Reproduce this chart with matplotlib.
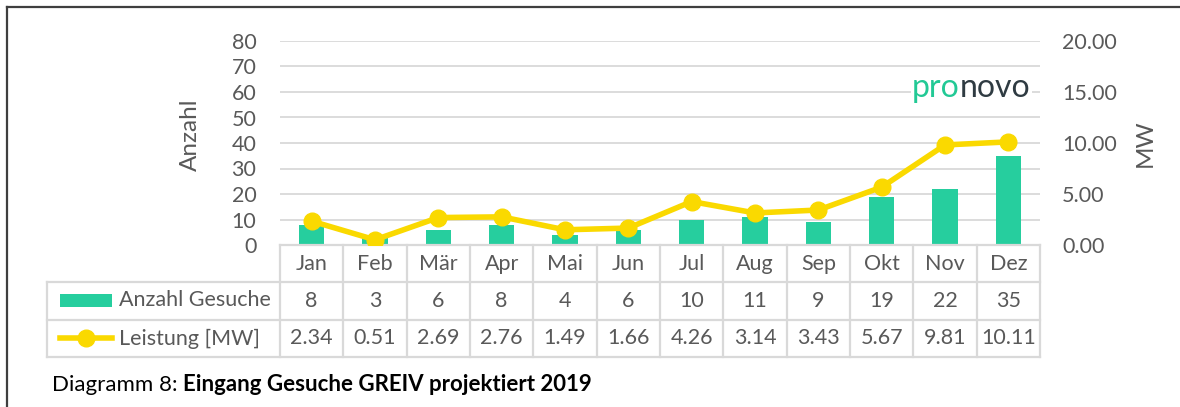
import matplotlib
matplotlib.use("Agg")
import matplotlib.pyplot as plt
from matplotlib.transforms import blended_transform_factory
from matplotlib.patches import Rectangle
from matplotlib.lines import Line2D

months = ["Jan", "Feb", "Mär", "Apr", "Mai", "Jun", "Jul", "Aug", "Sep", "Okt", "Nov", "Dez"]
anzahl = [8, 3, 6, 8, 4, 6, 10, 11, 9, 19, 22, 35]
leistung = [2.34, 0.51, 2.69, 2.76, 1.49, 1.66, 4.26, 3.14, 3.43, 5.67, 9.81, 10.11]
left_ticks = [0, 10, 20, 30, 40, 50, 60, 70, 80]
right_ticks = [0, 5, 10, 15, 20]
series_names = ["Anzahl Gesuche", "Leistung [MW]"]

GREEN = "#26CE9E"
YELLOW = "#FAD900"
GRID = "#D9D9D9"
TXT = "#595959"
FONT = "Lato"
plt.rcParams["font.family"] = [FONT, "DejaVu Sans"]

W, H = 1180, 407
fig = plt.figure(figsize=(W / 100, H / 100), dpi=100)

def fx(px):
    return px / W

def fy(py):
    return (H - py) / H

x0, x1, y0, y1 = 280, 1040, 245, 41
ax = fig.add_axes([fx(x0), fy(y0), fx(x1) - fx(x0), fy(y1) - fy(y0)])
ax2 = ax.twinx()
for a in (ax, ax2):
    for s in a.spines.values():
        s.set_visible(False)
    a.tick_params(length=0)

n = len(months)
xs = list(range(n))
ax.set_xlim(-0.5, n - 0.5)
ax.set_ylim(0, 80)
ax2.set_ylim(0, 20)
ax.set_yticks(left_ticks)
ax.set_yticklabels([str(t) for t in left_ticks], color=TXT, fontsize=15.5)
ax2.set_yticks(right_ticks)
ax2.set_yticklabels([f"{t:.2f}" for t in right_ticks], color=TXT, fontsize=15.5)
ax.tick_params(axis="y", pad=17)
ax2.tick_params(axis="y", pad=16)
ax.set_xticks([])
for t in left_ticks[1:]:
    ax.axhline(t, color=GRID, lw=1.3, zorder=0)

ax.bar(xs, anzahl, width=0.4, color=GREEN, zorder=2)
ax2.plot(xs, leistung, color=YELLOW, lw=4, marker="o", markersize=12, zorder=3)

fig.text(fx(190), fy(135), "Anzahl", rotation=90, ha="center", va="center", color=TXT, fontsize=17.5)
fig.text(fx(1145), fy(143), "MW", rotation=90, ha="center", va="center", color=TXT, fontsize=17.5)

# logo
lg = fig.text(fx(912), fy(88), "pro", color="#22C995", fontsize=23,
              ha="left", va="center", zorder=5,
              bbox=dict(facecolor="white", edgecolor="none", pad=1))
ax.annotate("novo", xy=(1, 0), xycoords=lg, xytext=(0, 0), textcoords="offset points",
            color="#2F3B42", fontsize=23, ha="left", va="bottom",
            bbox=dict(facecolor="white", edgecolor="none", pad=1), zorder=5)

# data table
tr = blended_transform_factory(ax.transData, ax.transAxes)
axh = y0 - y1
def ay(py):
    return (y0 - py) / axh

rows = [245, 282, 320, 357]
leg_left = (47 - x0) / ((x1 - x0) / n) - 0.5
lw_t = 1.6
ax.add_line(Line2D([-0.5, n - 0.5], [ay(rows[0])] * 2, transform=tr, color=GRID, lw=lw_t, clip_on=False))
for r in rows[1:]:
    ax.add_line(Line2D([leg_left, n - 0.5], [ay(r)] * 2, transform=tr, color=GRID, lw=lw_t, clip_on=False))
for k in range(n + 1):
    ax.add_line(Line2D([k - 0.5] * 2, [ay(rows[0]), ay(rows[3])], transform=tr, color=GRID, lw=lw_t, clip_on=False))
ax.add_line(Line2D([leg_left] * 2, [ay(rows[1]), ay(rows[3])], transform=tr, color=GRID, lw=lw_t, clip_on=False))

fs = 15.5
for i in range(n):
    ax.text(i, ay((rows[0] + rows[1]) / 2), months[i], transform=tr, ha="center", va="center", color=TXT, fontsize=fs)
    ax.text(i, ay((rows[1] + rows[2]) / 2), str(anzahl[i]), transform=tr, ha="center", va="center", color=TXT, fontsize=fs)
    ax.text(i, ay((rows[2] + rows[3]) / 2), f"{leistung[i]:.2f}", transform=tr, ha="center", va="center", color=TXT, fontsize=fs)

# legend keys
fig.patches.append(Rectangle((fx(60), fy(307)), fx(112) - fx(60), fy(294) - fy(307), transform=fig.transFigure,
                             facecolor=GREEN, edgecolor="none"))
fig.lines.append(Line2D([fx(60), fx(112)], [fy(338), fy(338)], transform=fig.transFigure, color=YELLOW, lw=4))
fig.lines.append(Line2D([fx(86)], [fy(338)], transform=fig.transFigure, color=YELLOW, marker="o", markersize=12))
fig.text(fx(119), fy(300.5), series_names[0], ha="left", va="center", color=TXT, fontsize=fs)
fig.text(fx(119), fy(338.5), series_names[1], ha="left", va="center", color=TXT, fontsize=fs)

# caption
c1 = fig.text(fx(52), fy(385), "Diagramm 8: ", ha="left", va="center", color="black", fontsize=16)
ax.annotate("Eingang Gesuche GREIV projektiert 2019", xy=(1, 0), xycoords=c1, xytext=(0, 0),
            textcoords="offset points", ha="left", va="bottom", color="black", fontsize=16, fontweight="bold")

# frame
fig.lines.append(Line2D([fx(7), fx(7)], [fy(7), 0], transform=fig.transFigure, color="#3F3F3F", lw=1.6))
fig.lines.append(Line2D([fx(7), 1], [fy(7), fy(7)], transform=fig.transFigure, color="#3F3F3F", lw=1.6))

fig.savefig("out.png", dpi=100)
